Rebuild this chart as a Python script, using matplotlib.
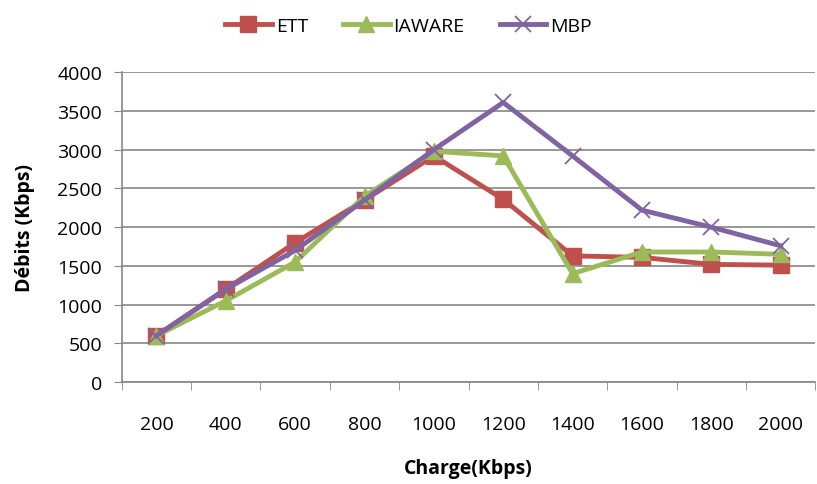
import numpy as np
import matplotlib.pyplot as plt

plt.rcParams['font.family'] = ['Open Sans', 'DejaVu Sans']

charge = ['200', '400', '600', '800', '1000', '1200', '1400', '1600', '1800', '2000']
ett = [600, 1200, 1800, 2350, 2920, 2360, 1630, 1610, 1520, 1510]
iaware = [600, 1050, 1550, 2400, 2980, 2920, 1400, 1680, 1680, 1650]
mbp = [600, 1200, 1700, 2350, 3000, 3610, 2920, 2220, 2000, 1760]

x = np.arange(len(charge))

fig = plt.figure(figsize=(8.17, 4.85), dpi=100)
ax = fig.add_axes([0.149, 0.21, 0.849, 0.639])

ax.plot(x, ett, color='#C0504D', lw=3.5, marker='s', ms=11, label='ETT')
ax.plot(x, iaware, color='#9BBB59', lw=3.5, marker='^', ms=12, label='IAWARE')
ax.plot(x, mbp, color='#8064A2', lw=3.5, marker='x', ms=12, mew=1.3, label='MBP')

ax.set_xlim(-0.5, 9.5)
ax.set_ylim(0, 4000)
ax.set_yticks(np.arange(0, 4001, 500))
ax.set_xticks(x)
ax.set_xticklabels(charge)
ax.set_xticks(np.arange(-0.5, 10, 1), minor=True)
ax.tick_params(axis='x', which='major', length=0, pad=24, labelsize=14)
ax.tick_params(axis='x', which='minor', length=6, color='#868686', direction='out')
ax.tick_params(axis='y', length=6, color='#868686', direction='out', labelsize=14, pad=8)

ax.grid(axis='y', color='#868686', lw=1.2)
ax.set_axisbelow(True)
for s in ['top', 'right']:
    ax.spines[s].set_visible(False)
for s in ['left', 'bottom']:
    ax.spines[s].set_color('#868686')
    ax.spines[s].set_linewidth(1.2)

ax.set_xlabel('Charge(Kbps)', fontsize=14, fontweight='bold', labelpad=18)
ax.set_ylabel('Débits (Kbps)', fontsize=14, fontweight='bold', labelpad=16)

fig.legend(loc='upper center', bbox_to_anchor=(0.5, 1.0), ncol=3, frameon=False,
           fontsize=14, handlelength=2.4, columnspacing=1.8, handletextpad=0.2)

fig.savefig('out.png', dpi=100)
